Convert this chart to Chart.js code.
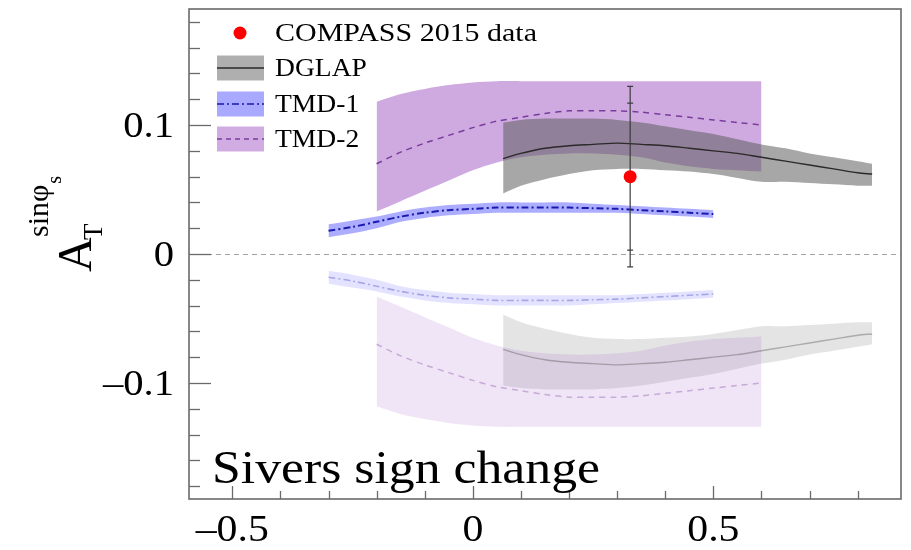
<!DOCTYPE html>
<html><head><meta charset="utf-8">
<script src="https://cdn.jsdelivr.net/npm/chart.js@4.4.0/dist/chart.umd.min.js"></script>
<style>html,body{margin:0;padding:0;background:#fff;}</style>
</head><body>
<canvas id="c" width="911" height="550"></canvas>
<script>
// ---------- data ----------
const xMajorVals = [-0.5, 0, 0.5];
const xMajorText = ['\u20130.5', '0', '0.5'];
const xMinorVals = [-0.4, -0.3, -0.2, -0.1, 0.1, 0.2, 0.3, 0.4, 0.6, 0.7, 0.8];
const yMajorVals = [-0.1, 0, 0.1];
const yMajorText = ['\u20130.1', '0', '0.1'];
const yMinorVals = [-0.18, -0.16, -0.14, -0.12, -0.08, -0.06, -0.04, -0.02, 0.02, 0.04, 0.06, 0.08, 0.12, 0.14, 0.16, 0.18];

// TMD-1 (blue, dash-dot)
const tmd1X    = [-0.3,-0.25,-0.2,-0.15,-0.1,-0.05,0,0.05,0.1,0.15,0.2,0.25,0.3,0.35,0.4,0.45,0.5];
const tmd1Mid  = [0.018,0.021,0.025,0.029,0.032,0.034,0.035,0.036,0.036,0.036,0.036,0.0355,0.035,0.034,0.033,0.032,0.031];
const tmd1Up   = [0.023,0.026,0.029,0.033,0.036,0.038,0.039,0.040,0.040,0.040,0.040,0.039,0.038,0.037,0.036,0.035,0.034];
const tmd1Lo   = [0.013,0.016,0.020,0.025,0.028,0.030,0.031,0.032,0.032,0.032,0.032,0.032,0.032,0.031,0.030,0.029,0.028];
const tmd1NegMid = [-0.018,-0.021,-0.025,-0.029,-0.032,-0.034,-0.035,-0.036,-0.036,-0.036,-0.036,-0.0355,-0.035,-0.034,-0.033,-0.032,-0.031];
const tmd1NegUp  = [-0.013,-0.016,-0.020,-0.025,-0.028,-0.030,-0.031,-0.032,-0.032,-0.032,-0.032,-0.032,-0.032,-0.031,-0.030,-0.029,-0.028];
const tmd1NegLo  = [-0.023,-0.026,-0.029,-0.033,-0.036,-0.038,-0.039,-0.040,-0.040,-0.040,-0.040,-0.039,-0.038,-0.037,-0.036,-0.035,-0.034];

// TMD-2 (purple, dashed)
const tmd2X    = [-0.2,-0.15,-0.1,-0.05,0,0.05,0.1,0.15,0.2,0.25,0.3,0.35,0.4,0.45,0.5,0.55,0.6];
const tmd2Mid  = [0.070,0.079,0.086,0.092,0.098,0.103,0.106,0.109,0.111,0.111,0.111,0.110,0.108,0.106,0.104,0.102,0.100];
const tmd2Up   = [0.118,0.124,0.128,0.131,0.133,0.134,0.134,0.134,0.134,0.134,0.134,0.134,0.134,0.134,0.134,0.134,0.134];
const tmd2Lo   = [0.033,0.041,0.049,0.057,0.065,0.071,0.075,0.077,0.078,0.078,0.077,0.075,0.071,0.068,0.066,0.065,0.064];
const tmd2NegMid = [-0.070,-0.079,-0.086,-0.092,-0.098,-0.103,-0.106,-0.109,-0.111,-0.111,-0.111,-0.110,-0.108,-0.106,-0.104,-0.102,-0.100];
const tmd2NegUp  = [-0.033,-0.041,-0.049,-0.057,-0.065,-0.071,-0.075,-0.077,-0.078,-0.078,-0.077,-0.075,-0.071,-0.068,-0.066,-0.065,-0.064];
const tmd2NegLo  = [-0.118,-0.124,-0.128,-0.131,-0.133,-0.134,-0.134,-0.134,-0.134,-0.134,-0.134,-0.134,-0.134,-0.134,-0.134,-0.134,-0.134];

// DGLAP (gray, solid)
const dglapX   = [0.063,0.1,0.15,0.2,0.25,0.3,0.35,0.4,0.45,0.5,0.55,0.6,0.65,0.7,0.75,0.8,0.83];
const dglapMid = [0.074,0.078,0.082,0.084,0.085,0.086,0.085,0.084,0.082,0.080,0.078,0.075,0.072,0.069,0.066,0.063,0.062];
const dglapUp  = [0.102,0.104,0.105,0.105,0.105,0.104,0.102,0.099,0.096,0.093,0.089,0.085,0.082,0.078,0.075,0.072,0.070];
const dglapLo  = [0.047,0.053,0.058,0.062,0.065,0.066,0.066,0.065,0.064,0.062,0.059,0.056,0.056,0.055,0.054,0.053,0.053];
const dglapNegMid = [-0.074,-0.078,-0.082,-0.084,-0.085,-0.086,-0.085,-0.084,-0.082,-0.080,-0.078,-0.075,-0.072,-0.069,-0.066,-0.063,-0.062];
const dglapNegUp  = [-0.047,-0.053,-0.058,-0.062,-0.065,-0.066,-0.066,-0.065,-0.064,-0.062,-0.059,-0.056,-0.056,-0.055,-0.054,-0.053,-0.053];
const dglapNegLo  = [-0.102,-0.104,-0.105,-0.105,-0.105,-0.104,-0.102,-0.099,-0.096,-0.093,-0.089,-0.085,-0.082,-0.078,-0.075,-0.072,-0.070];

// COMPASS 2015 data point
const dataX = [0.327];
const dataY = [0.060];
const dataErrTot = [0.070];
const dataErrStat = [0.057];

// ---------- styles ----------
const SERIF = '"Liberation Serif", "Times New Roman", serif';
const C = {
  purple: 'rgba(150,70,190,0.46)', purpleNeg: 'rgba(150,70,190,0.14)',
  gray: 'rgba(95,95,95,0.55)', grayNeg: 'rgba(95,95,95,0.17)',
  blue: 'rgba(40,40,255,0.38)', blueNeg: 'rgba(40,40,255,0.13)',
  purpleLine: '#7a3c9c', purpleLineNeg: 'rgba(122,60,156,0.35)',
  grayLine: '#2a2a2a', grayLineNeg: 'rgba(40,40,40,0.3)',
  blueLine: '#1a1ab0', blueLineNeg: 'rgba(26,26,176,0.3)'
};

const pts = (xs, ys) => xs.map((x, i) => ({x, y: ys[i]}));
const datasets = [];
let ord = 100;
function band(label, xs, up, lo, color) {
  const idx = datasets.length;
  datasets.push({label: label + '_up', data: pts(xs, up), showLine: true, borderWidth: 0, pointRadius: 0,
    backgroundColor: color, fill: {target: idx + 1}, order: ord, tension: 0.3});
  datasets.push({label: label + '_lo', data: pts(xs, lo), showLine: true, borderWidth: 0, pointRadius: 0,
    fill: false, order: ord, tension: 0.3});
  ord -= 1;
}
function line(label, xs, ys, color, dash, w) {
  datasets.push({label, data: pts(xs, ys), showLine: true, borderColor: color, borderWidth: w, borderDash: dash,
    pointRadius: 0, fill: false, order: 10, tension: 0.3});
}
band('dglapNeg', dglapX, dglapNegUp, dglapNegLo, C.grayNeg);
band('tmd2Neg', tmd2X, tmd2NegUp, tmd2NegLo, C.purpleNeg);
band('tmd1Neg', tmd1X, tmd1NegUp, tmd1NegLo, C.blueNeg);
band('tmd2', tmd2X, tmd2Up, tmd2Lo, C.purple);
band('dglap', dglapX, dglapUp, dglapLo, C.gray);
band('tmd1', tmd1X, tmd1Up, tmd1Lo, C.blue);
line('dglapNegL', dglapX, dglapNegMid, C.grayLineNeg, [], 1.4);
line('tmd2NegL', tmd2X, tmd2NegMid, C.purpleLineNeg, [6,5], 1.5);
line('tmd1NegL', tmd1X, tmd1NegMid, C.blueLineNeg, [7,3,2,3], 1.6);
line('dglapL', dglapX, dglapMid, C.grayLine, [], 1.4);
line('tmd2L', tmd2X, tmd2Mid, C.purpleLine, [6,5], 1.5);
line('tmd1L', tmd1X, tmd1Mid, C.blueLine, [7,3,2,3], 2);
datasets.push({label: 'COMPASS', data: pts(dataX, dataY), pointRadius: 6.5, pointBackgroundColor: '#ff0000',
  pointBorderWidth: 0, showLine: false, order: 0});

function sText(ctx, t, x, y, size, stretch, align, base) {
  ctx.save();
  ctx.font = size + 'px ' + SERIF;
  ctx.textBaseline = base || 'alphabetic';
  const w = ctx.measureText(t).width * stretch;
  let x0 = x;
  if (align === 'right') x0 = x - w; else if (align === 'center') x0 = x - w / 2;
  ctx.translate(x0, y); ctx.scale(stretch, 1);
  ctx.textAlign = 'left';
  ctx.fillText(t, 0, 0);
  ctx.restore();
}
function fitStretch(ctx, t, size, width) {
  ctx.font = size + 'px ' + SERIF;
  return width / ctx.measureText(t).width;
}

const decor = {
  id: 'decor',
  beforeDatasetsDraw(chart) {
    const {ctx, chartArea: a, scales: {y}} = chart;
    ctx.save();
    ctx.strokeStyle = '#a0a0a0'; ctx.lineWidth = 1; ctx.setLineDash([5, 4]);
    const py = Math.round(y.getPixelForValue(0)) + 0.5;
    ctx.beginPath(); ctx.moveTo(a.left, py); ctx.lineTo(a.right, py); ctx.stroke();
    ctx.restore();
  },
  beforeDatasetDraw(chart, args) {
    if (chart.data.datasets[args.index].label !== 'COMPASS') return;
    const {ctx, scales: {x, y}} = chart;
    ctx.save();
    ctx.strokeStyle = '#3a3a3a'; ctx.lineWidth = 1.2;
    dataX.forEach((dx, i) => {
      const px = x.getPixelForValue(dx);
      const t = y.getPixelForValue(dataY[i] + dataErrTot[i]);
      const b = y.getPixelForValue(dataY[i] - dataErrTot[i]);
      const ts = y.getPixelForValue(dataY[i] + dataErrStat[i]);
      const bs = y.getPixelForValue(dataY[i] - dataErrStat[i]);
      ctx.beginPath(); ctx.moveTo(px, t); ctx.lineTo(px, b); ctx.stroke();
      [t, b, ts, bs].forEach(p => { ctx.beginPath(); ctx.moveTo(px - 3, p); ctx.lineTo(px + 3, p); ctx.stroke(); });
    });
    ctx.restore();
  },
  afterDraw(chart) {
    const {ctx, chartArea: a, scales: {x, y}} = chart;
    ctx.save();
    // inward tick marks
    ctx.strokeStyle = '#6a6a6a'; ctx.lineWidth = 1.3;
    const yTick = (v, len) => { const py = Math.round(y.getPixelForValue(v)) + 0.5;
      ctx.beginPath(); ctx.moveTo(a.left, py); ctx.lineTo(a.left + len, py); ctx.stroke(); };
    const xTick = (v, len) => { const px = Math.round(x.getPixelForValue(v)) + 0.5;
      ctx.beginPath(); ctx.moveTo(px, a.bottom); ctx.lineTo(px, a.bottom - len); ctx.stroke(); };
    yMajorVals.forEach(v => yTick(v, 22));
    yMinorVals.forEach(v => yTick(v, 11));
    xMajorVals.forEach(v => xTick(v, 13));
    xMinorVals.forEach(v => xTick(v, 8));
    // frame
    ctx.strokeStyle = '#6a6a6a'; ctx.lineWidth = 1.6;
    ctx.strokeRect(a.left, a.top, a.right - a.left, a.bottom - a.top);

    // tick labels
    ctx.fillStyle = '#000';
    yMajorVals.forEach((v, i) => sText(ctx, yMajorText[i], a.left - 15, y.getPixelForValue(v) + 3, 35, 1.16, 'right', 'middle'));
    xMajorVals.forEach((v, i) => sText(ctx, xMajorText[i], x.getPixelForValue(v), 541, 38, 1.1, 'center', 'alphabetic'));

    // legend
    const lx = 217, lw = 47, lh = 25, tx = 275;
    ctx.beginPath(); ctx.fillStyle = '#ff0000'; ctx.arc(240, 33, 6.5, 0, Math.PI * 2); ctx.fill();
    ctx.fillStyle = '#000';
    const legTitle = 'COMPASS 2015 data';
    sText(ctx, legTitle, tx, 34, 26, fitStretch(ctx, legTitle, 26, 262), 'left', 'middle');
    const rows = [
      {t: 'DGLAP', c: 'rgba(95,95,95,0.5)', l: C.grayLine, d: [], y: 68},
      {t: 'TMD-1', c: 'rgba(40,40,255,0.4)', l: C.blueLine, d: [7,3,2,3], y: 104},
      {t: 'TMD-2', c: 'rgba(150,70,190,0.45)', l: C.purpleLine, d: [5,4], y: 139}
    ];
    rows.forEach(r => {
      ctx.fillStyle = r.c; ctx.fillRect(lx, r.y - lh / 2, lw, lh);
      ctx.strokeStyle = r.l; ctx.lineWidth = 1.6; ctx.setLineDash(r.d);
      ctx.beginPath(); ctx.moveTo(lx, r.y); ctx.lineTo(lx + lw, r.y); ctx.stroke();
      ctx.setLineDash([]);
      ctx.fillStyle = '#000';
      sText(ctx, r.t, tx, r.y + 1, 26, 1.06, 'left', 'middle');
    });

    // annotation, fitted to the reference width
    const s = 'Sivers sign change';
    sText(ctx, s, 212, 483, 46, fitStretch(ctx, s, 46, 388), 'left', 'alphabetic');

    // y-axis title A_T^{sin phi_s}
    ctx.fillStyle = '#000';
    ctx.textBaseline = 'alphabetic'; ctx.textAlign = 'left';
    ctx.translate(91, 272); ctx.rotate(-Math.PI / 2);
    ctx.font = '48px ' + SERIF; ctx.fillText('A', 0, 0);
    ctx.font = '27px ' + SERIF; ctx.fillText('T', 32, 11);
    ctx.font = '30px ' + SERIF; ctx.fillText('sin\u03c6', 35, -43);
    const w = ctx.measureText('sin\u03c6').width;
    ctx.font = '20px ' + SERIF; ctx.fillText('s', 35 + w + 1, -30);
    ctx.restore();
  }
};

new Chart(document.getElementById('c'), {
  type: 'scatter',
  data: {datasets},
  options: {
    responsive: false, animation: false, devicePixelRatio: 1,
    layout: {padding: {top: 9, right: 10, left: 0, bottom: 0}},
    plugins: {legend: {display: false}, tooltip: {enabled: false}},
    scales: {
      x: {
        type: 'linear', min: -0.59, max: 0.89,
        grid: {display: false, drawTicks: false}, border: {display: false},
        afterFit: s => { s.height = 51; s.paddingLeft = 0; s.paddingRight = 0; },
        ticks: {display: false, stepSize: 0.1, autoSkip: false, includeBounds: false}
      },
      y: {
        type: 'linear', min: -0.19, max: 0.19,
        grid: {display: false, drawTicks: false}, border: {display: false},
        afterFit: s => { s.width = 189; s.paddingTop = 0; s.paddingBottom = 0; },
        ticks: {display: false, stepSize: 0.02, autoSkip: false, includeBounds: false}
      }
    }
  },
  plugins: [decor]
});
</script>
</body></html>
